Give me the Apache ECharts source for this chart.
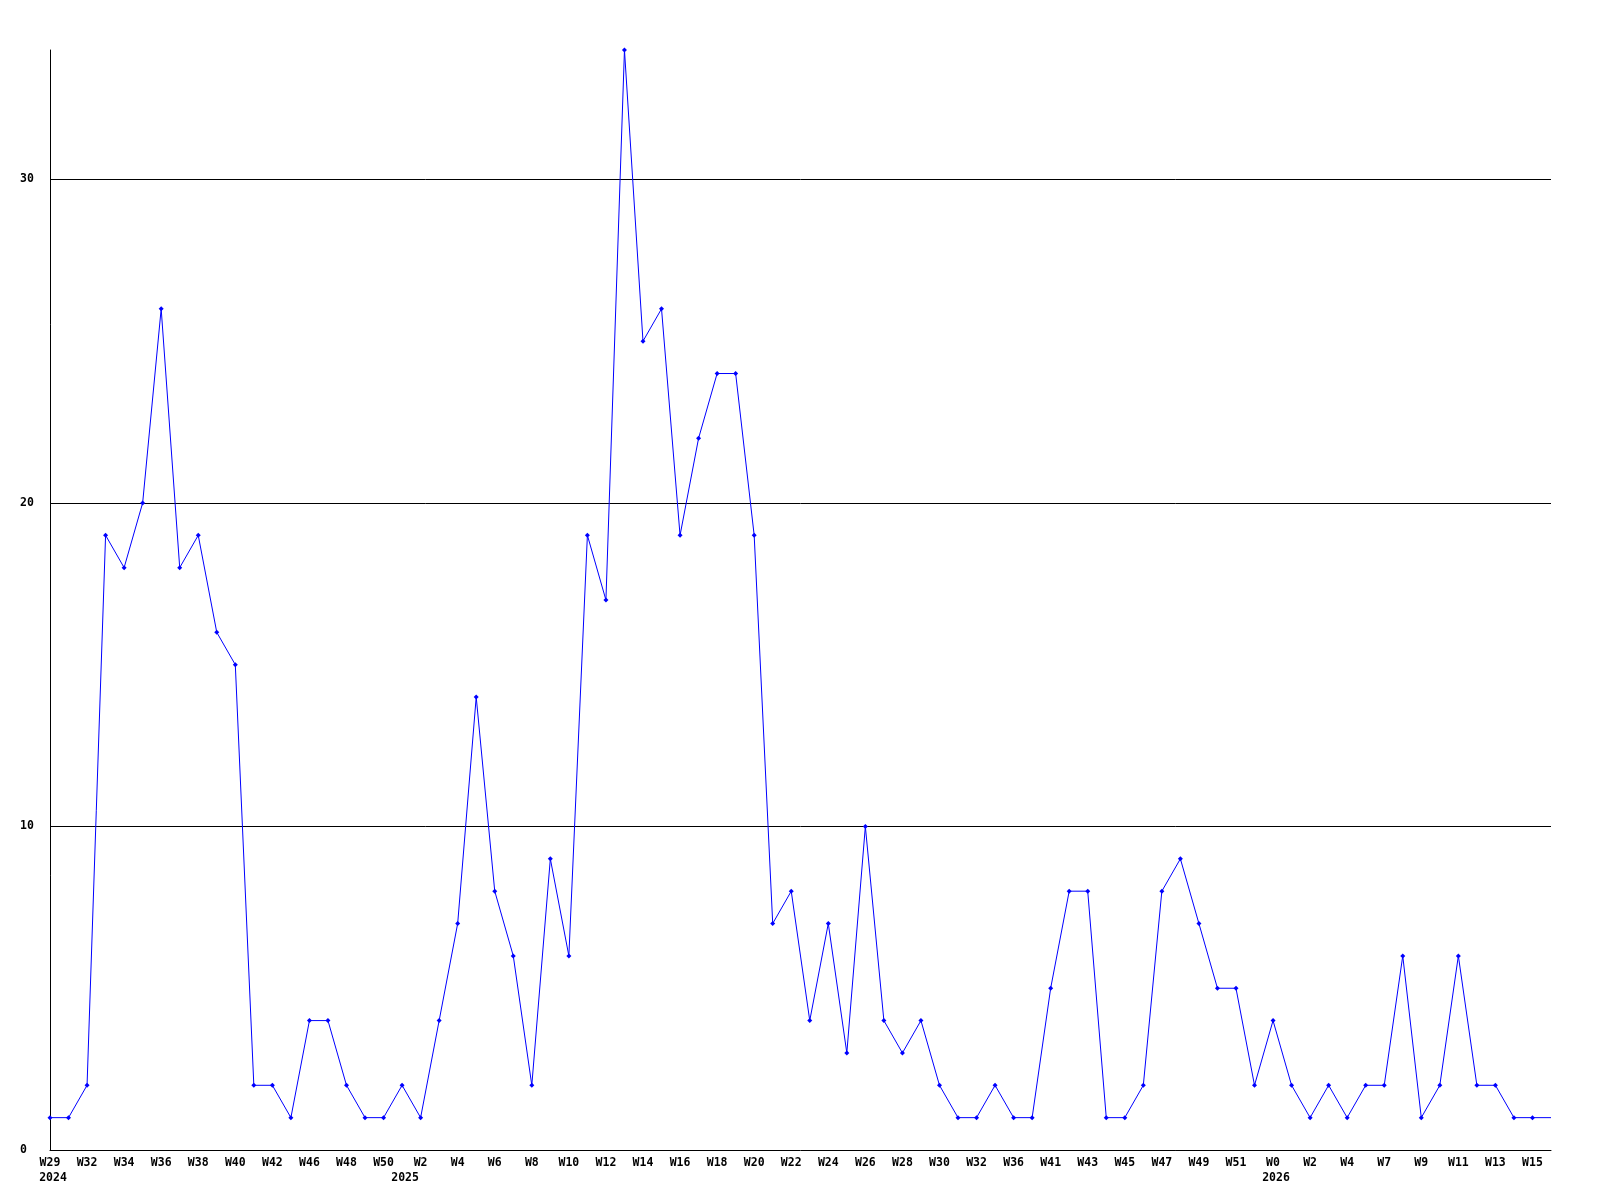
<!DOCTYPE html>
<html>
<head>
<meta charset="utf-8">
<script src="https://cdn.jsdelivr.net/npm/echarts@6/dist/echarts.min.js"></script>
<style>html,body{margin:0;padding:0;background:#fff;}#c{width:1600px;height:1200px;}</style>
</head>
<body>
<div id="c"></div>
<script>
// Week labels for each point (odd-index ones are hidden in the picture)
const weeks = [
  "W29","W31","W32","W33","W34","W35","W36","W37","W38","W39",
  "W40","W41","W42","W44","W46","W47","W48","W49","W50","W1",
  "W2","W3","W4","W5","W6","W7","W8","W9","W10","W11",
  "W12","W13","W14","W15","W16","W17","W18","W19","W20","W21",
  "W22","W23","W24","W25","W26","W27","W28","W29","W30","W31",
  "W32","W34","W36","W38","W41","W42","W43","W44","W45","W46",
  "W47","W48","W49","W50","W51","W52","W0","W1","W2","W3",
  "W4","W6","W7","W8","W9","W10","W11","W12","W13","W14",
  "W15","W16"
];
// Year printed under the first point of each year
const yearIndex = [0, 19, 66];
const yearText = ["2024", "2025", "2026"];
// Weekly counts
const values = [
  1,1,2,19,18,20,26,18,19,16,
  15,2,2,1,4,4,2,1,1,2,
  1,4,7,14,8,6,2,9,6,19,
  17,34,25,26,19,22,24,24,19,7,
  8,4,7,3,10,4,3,4,2,1,
  1,2,1,1,5,8,8,1,1,2,
  8,9,7,5,5,2,4,2,1,2,
  1,2,2,6,1,2,6,2,2,1,
  1,1
];
const yTicks = [0, 10, 20, 30];

const yearRow = weeks.map((w, i) => {
  const k = yearIndex.indexOf(i);
  return k >= 0 ? yearText[k] : '';
});

const chart = echarts.init(document.getElementById('c'), null, {renderer: 'canvas'});
const font = "DejaVu Sans Mono";
const lbl = {color: '#000', fontFamily: font, fontWeight: 'bold', fontSize: 11.5};
chart.setOption({
  backgroundColor: '#ffffff',
  animation: false,
  grid: {left: 50, right: 49, top: 50, bottom: 50, containLabel: false},
  xAxis: [{
    type: 'category',
    data: weeks,
    boundaryGap: false,
    axisLine: {show: true, lineStyle: {color: '#000', width: 1}},
    axisTick: {show: false},
    splitLine: {show: false},
    axisLabel: Object.assign({interval: 1, hideOverlap: false, margin: 6, lineHeight: 15}, lbl)
  }, {
    type: 'category',
    data: yearRow,
    position: 'bottom',
    boundaryGap: false,
    axisLine: {show: false},
    axisTick: {show: false},
    splitLine: {show: false},
    axisLabel: Object.assign({interval: 0, hideOverlap: false, margin: 21, lineHeight: 15, padding: [0, 0, 0, 6]}, lbl)
  }],
  yAxis: {
    type: 'value',
    min: 0,
    max: 34,
    interval: 10,
    axisLine: {show: true, lineStyle: {color: '#000', width: 1}},
    axisTick: {show: false},
    splitLine: {show: true, showMinLine: false, showMaxLine: false, lineStyle: {color: '#000', width: 1}},
    axisLabel: Object.assign({
      showMaxLabel: false,
      align: 'left',
      margin: 30,
      formatter: v => (yTicks.indexOf(v) >= 0 ? String(v) : '')
    }, lbl)
  },
  series: [{
    type: 'line',
    xAxisIndex: 0,
    data: values,
    color: '#0000ff',
    lineStyle: {color: '#0000ff', width: 1},
    itemStyle: {color: '#0000ff'},
    symbol: (v, p) => (p.dataIndex === values.length - 1 ? 'none' : 'diamond'),
    symbolSize: 5,
    showAllSymbol: true,
    clip: false
  }]
});
</script>
</body>
</html>
